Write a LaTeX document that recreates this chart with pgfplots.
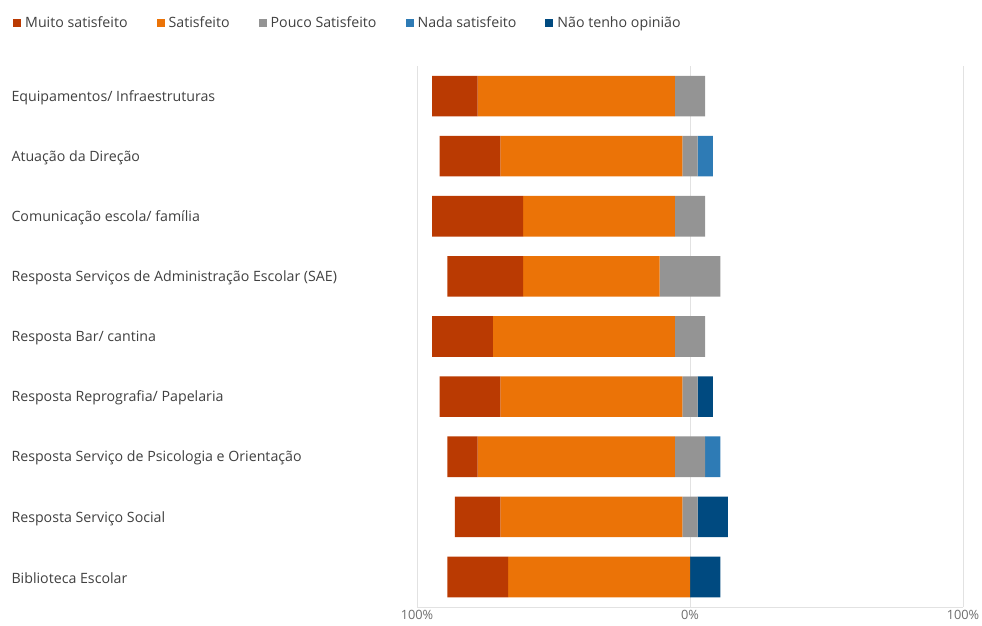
\documentclass[border=0pt]{standalone}
\usepackage{pgfplots}
\usepackage{pgfplotstable}
\pgfplotsset{compat=1.18}
\usepackage{fontspec}
\setmainfont{Open Sans}
\definecolor{cMuito}{RGB}{186,58,2}
\definecolor{cSat}{RGB}{235,115,7}
\definecolor{cPouco}{RGB}{148,148,148}
\definecolor{cNada}{RGB}{46,123,181}
\definecolor{cNao}{RGB}{0,74,128}
\definecolor{gridc}{RGB}{226,226,226}
\definecolor{labc}{RGB}{64,64,64}
\definecolor{tickc}{RGB}{110,110,110}
\pgfplotsset{sqlegend/.style={legend image code/.code={\fill[##1] (0pt,-4pt) rectangle (8pt,4pt);}}}
\pgfplotstableread{
y off muito sat pouco nada nao
0 -94.444 16.667 72.222 11.111 0 0
1 -91.667 22.222 66.667 5.556 5.556 0
2 -94.444 33.333 55.556 11.111 0 0
3 -88.889 27.778 50.000 22.222 0 0
4 -94.444 22.222 66.667 11.111 0 0
5 -91.667 22.222 66.667 5.556 0 5.556
6 -88.889 11.111 72.222 11.111 5.556 0
7 -86.111 16.667 66.667 5.556 0 11.111
8 -88.889 22.222 66.667 0 0 11.111
}\data
\begin{document}
\begin{tikzpicture}[x=1pt,y=1pt]
\path[use as bounding box] (0,0) rectangle (982,625);
\begin{axis}[
  at={(417pt,18pt)}, anchor=south west,
  scale only axis, width=546pt, height=541pt,
  xbar stacked, stack negative=on previous, bar width=40.6pt,
  xmin=-100, xmax=100, ymin=-0.5, ymax=8.5, y dir=reverse,
  xtick={-100,0,100}, xticklabels={100\%,0\%,100\%},
  ytick={0,1,2,3,4,5,6,7,8},
  yticklabels={Equipamentos/ Infraestruturas,Atuação da Direção,Comunicação escola/ família,Resposta Serviços de Administração Escolar (SAE),Resposta Bar/ cantina,Resposta Reprografia/ Papelaria,Resposta Serviço de Psicologia e Orientação,Resposta Serviço Social,Biblioteca Escolar},
  axis lines*=left,
  axis line style={-, gridc, line width=0.8pt},
  xmajorgrids, grid style={gridc, line width=0.8pt},
  major tick length=0pt,
  x tick label style={font=\fontsize{12.8}{15}\selectfont, text=tickc},
  y tick label style={anchor=west, xshift=-409pt, yshift=-1.5pt, font=\fontsize{14.2}{17}\selectfont, text=labc},
  legend columns=5,
  legend style={at={(-0.7454,1.0795)}, anchor=west, draw=none, fill=none,
    font=\fontsize{14.2}{17}\selectfont, text=labc,
    /tikz/every even column/.append style={column sep=27pt},
    /tikz/every odd column/.append style={column sep=2pt}},
]
\addlegendimage{sqlegend, draw=none, fill=cMuito}\addlegendentry{Muito satisfeito}
\addlegendimage{sqlegend, draw=none, fill=cSat}\addlegendentry{Satisfeito}
\addlegendimage{sqlegend, draw=none, fill=cPouco}\addlegendentry{Pouco Satisfeito}
\addlegendimage{sqlegend, draw=none, fill=cNada}\addlegendentry{Nada satisfeito}
\addlegendimage{sqlegend, draw=none, fill=cNao}\addlegendentry{Não tenho opinião}
\addplot[draw=none, fill=none] table[x=off, y=y] {\data};
\addplot[draw=none, fill=cMuito] table[x=muito, y=y] {\data};
\addplot[draw=none, fill=cSat] table[x=sat, y=y] {\data};
\addplot[draw=none, fill=cPouco] table[x=pouco, y=y] {\data};
\addplot[draw=none, fill=cNada] table[x=nada, y=y] {\data};
\addplot[draw=none, fill=cNao] table[x=nao, y=y] {\data};
\end{axis}
\end{tikzpicture}
\end{document}
